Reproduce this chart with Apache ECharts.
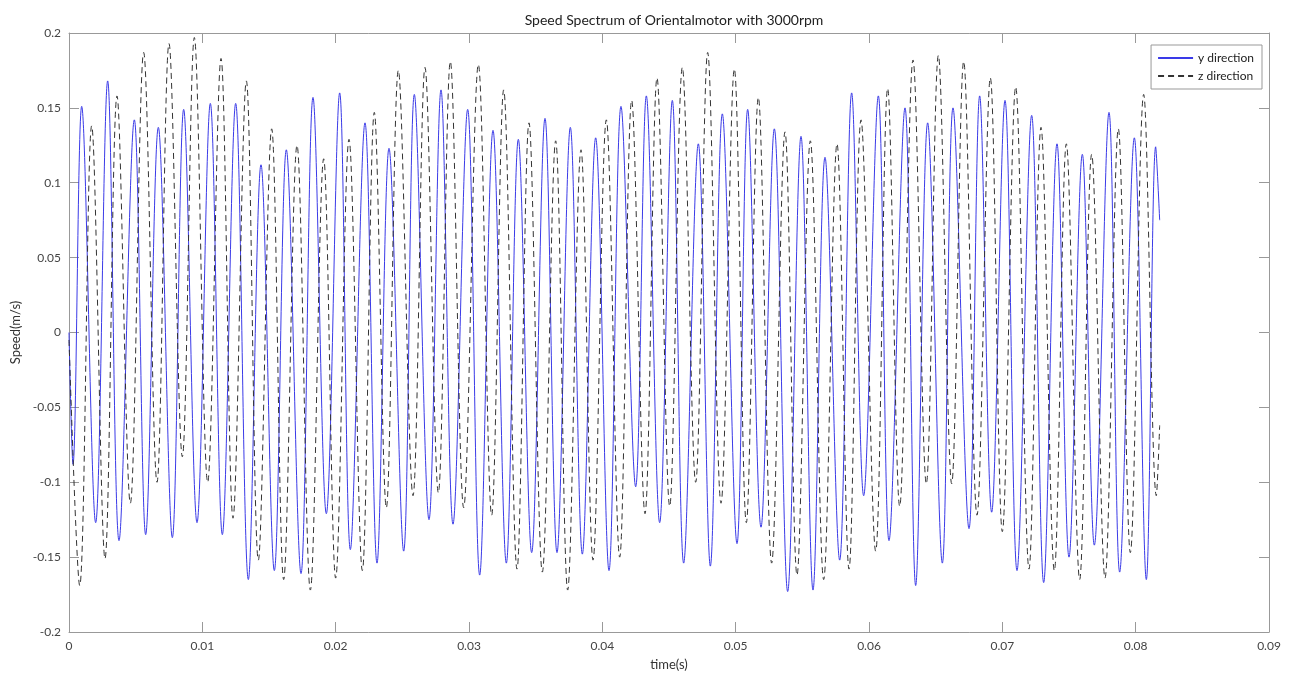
<!DOCTYPE html>
<html>
<head>
<meta charset="utf-8">
<script src="https://cdn.jsdelivr.net/npm/echarts@6/dist/echarts.min.js"></script>
<style>html,body{margin:0;padding:0;background:#fff}#c{width:1289px;height:680px}</style>
</head>
<body>
<div id="c"></div>
<script>
// y direction (blue): extrema
var yTime = [0, 0.0003, 0.00095, 0.0020, 0.0029, 0.00375, 0.0049, 0.00575, 0.0067, 0.00775, 0.0086, 0.0096, 0.0106, 0.0115, 0.0125, 0.01345, 0.0144,
  0.0154, 0.0163, 0.0174, 0.0183, 0.0193, 0.0203, 0.0211, 0.0222, 0.0231, 0.0240, 0.0251, 0.0259, 0.0270, 0.0279, 0.0288, 0.0299,
  0.0308, 0.0318, 0.0328, 0.0337, 0.0347, 0.0357, 0.0366, 0.0376, 0.0385, 0.0395, 0.0405, 0.0414, 0.0425, 0.0433, 0.0443,
  0.04525, 0.0461, 0.0472, 0.0481, 0.0490, 0.0501, 0.0509, 0.0519, 0.0529, 0.0539, 0.0549, 0.0558, 0.0567, 0.0578, 0.0587, 0.0596,
  0.0607, 0.0615, 0.0627, 0.0635, 0.0644, 0.0655, 0.0663, 0.0675, 0.0683, 0.0692, 0.0702, 0.0711, 0.0722, 0.0731, 0.0741, 0.0750,
  0.0760, 0.0769, 0.0780, 0.0788, 0.0799, 0.0808, 0.0815, 0.0818];
var ySpeed = [0.0, -0.088, 0.151, -0.127, 0.168, -0.139, 0.142, -0.135, 0.137, -0.137, 0.149, -0.127, 0.153, -0.135, 0.153, -0.165, 0.112,
  -0.159, 0.122, -0.161, 0.157, -0.121, 0.160, -0.145, 0.140, -0.154, 0.123, -0.146, 0.159, -0.125, 0.162, -0.128, 0.149,
  -0.162, 0.135, -0.154, 0.129, -0.147, 0.143, -0.147, 0.137, -0.148, 0.130, -0.159, 0.151, -0.103, 0.158, -0.127,
  0.155, -0.154, 0.126, -0.156, 0.146, -0.141, 0.149, -0.130, 0.136, -0.173, 0.131, -0.172, 0.117, -0.152, 0.160, -0.109,
  0.158, -0.139, 0.150, -0.169, 0.140, -0.154, 0.150, -0.131, 0.158, -0.120, 0.155, -0.159, 0.145, -0.167, 0.126, -0.150,
  0.119, -0.142, 0.147, -0.160, 0.130, -0.165, 0.124, 0.075];

// z direction (black dashed): extrema
var zTime = [0, 0.0008, 0.0017, 0.0027, 0.0036, 0.0046, 0.0056, 0.0066, 0.0075, 0.0085, 0.0094, 0.0104, 0.0114, 0.0123, 0.0133, 0.0142,
  0.0152, 0.0161, 0.0171, 0.0181, 0.0191, 0.0200, 0.0210, 0.0220, 0.0229, 0.0238, 0.0247, 0.0258, 0.0267, 0.0277, 0.0286, 0.0296,
  0.0307, 0.0317, 0.0326, 0.0336, 0.0345, 0.0355, 0.0365, 0.0374, 0.0384, 0.0393, 0.0403, 0.0413, 0.0422, 0.0432, 0.0441,
  0.04505, 0.0460, 0.0470, 0.0479, 0.0489, 0.0499, 0.0508, 0.0517, 0.0527, 0.0537, 0.0546, 0.0556, 0.0566, 0.0576, 0.0585, 0.0594,
  0.0605, 0.0614, 0.0623, 0.0633, 0.0643, 0.0652, 0.0662, 0.0671, 0.0681, 0.0691, 0.0700, 0.0710, 0.0720, 0.0729, 0.0739, 0.0748,
  0.0758, 0.0767, 0.0777, 0.0787, 0.0796, 0.0806, 0.08155, 0.0818];
var zSpeed = [-0.005, -0.169, 0.138, -0.151, 0.158, -0.114, 0.187, -0.100, 0.193, -0.083, 0.197, -0.100, 0.183, -0.124, 0.168, -0.152,
  0.136, -0.165, 0.125, -0.172, 0.116, -0.164, 0.129, -0.159, 0.147, -0.117, 0.175, -0.109, 0.177, -0.107, 0.181, -0.117,
  0.179, -0.122, 0.162, -0.158, 0.140, -0.160, 0.128, -0.172, 0.122, -0.152, 0.142, -0.150, 0.155, -0.121, 0.170,
  -0.116, 0.177, -0.100, 0.187, -0.114, 0.176, -0.127, 0.157, -0.154, 0.134, -0.162, 0.128, -0.165, 0.126, -0.158, 0.142,
  -0.146, 0.163, -0.116, 0.182, -0.101, 0.185, -0.101, 0.181, -0.122, 0.170, -0.133, 0.164, -0.158, 0.137, -0.159, 0.126,
  -0.165, 0.119, -0.164, 0.136, -0.147, 0.159, -0.109, -0.062];

var seriesNames = ['y direction', 'z direction'];
var titleText = 'Speed Spectrum of Orientalmotor with 3000rpm';

function pairs(t, v) { return t.map(function (x, i) { return [x, v[i]]; }); }

var FONT = 'Lato';
var frame = '#999';
var chart = echarts.init(document.getElementById('c'));
var baseX = { type: 'value', min: 0, max: 0.09, interval: 0.01 };
var baseY = { type: 'value', min: -0.2, max: 0.2, interval: 0.05 };
chart.setOption({
  animation: false,
  backgroundColor: '#fff',
  title: { text: titleText, left: 669, top: 8, textAlign: 'center',
    textStyle: { fontFamily: FONT, fontSize: 14, fontWeight: 'normal', color: '#222' } },
  grid: { left: 69, right: 20, top: 33, bottom: 48, containLabel: false },
  legend: {
    orient: 'vertical', right: 27, top: 45, itemWidth: 35, itemHeight: 10, itemGap: 6,
    padding: [7, 8, 7, 6], borderColor: '#999', borderWidth: 1, backgroundColor: '#fff',
    itemStyle: { opacity: 0 },
    textStyle: { fontFamily: FONT, fontSize: 12, color: '#222' },
    data: seriesNames
  },
  xAxis: [
    Object.assign({}, baseX, {
      position: 'bottom', name: 'time(s)', nameLocation: 'middle', nameGap: 26,
      nameTextStyle: { fontFamily: FONT, fontSize: 13, color: '#333' },
      axisLine: { show: true, onZero: false, lineStyle: { color: frame } },
      axisTick: { show: true, inside: true, length: 10, lineStyle: { color: frame } },
      axisLabel: { fontFamily: FONT, fontSize: 12, color: '#444', margin: 8 },
      splitLine: { show: false }
    }),
    Object.assign({}, baseX, {
      position: 'top',
      axisLine: { show: true, onZero: false, lineStyle: { color: frame } },
      axisTick: { show: true, inside: true, length: 10, lineStyle: { color: frame } },
      axisLabel: { show: false }, splitLine: { show: false }
    })
  ],
  yAxis: [
    Object.assign({}, baseY, {
      position: 'left', name: 'Speed(m/s)', nameLocation: 'middle', nameGap: 47, nameRotate: 90,
      nameTextStyle: { fontFamily: FONT, fontSize: 13, color: '#333' },
      axisLine: { show: true, onZero: false, lineStyle: { color: frame } },
      axisTick: { show: true, inside: true, length: 10, lineStyle: { color: frame } },
      axisLabel: { fontFamily: FONT, fontSize: 12, color: '#444', margin: 8 },
      splitLine: { show: false }
    }),
    Object.assign({}, baseY, {
      position: 'right',
      axisLine: { show: true, onZero: false, lineStyle: { color: frame } },
      axisTick: { show: true, inside: true, length: 10, lineStyle: { color: frame } },
      axisLabel: { show: false }, splitLine: { show: false }
    })
  ],
  series: [
    { name: seriesNames[0], type: 'line', xAxisIndex: 0, yAxisIndex: 0, data: pairs(yTime, ySpeed),
      smooth: 0.36, symbol: 'none', lineStyle: { color: '#3a3ae8', width: 1 }, itemStyle: { color: '#3a3ae8' } },
    { name: seriesNames[1], type: 'line', xAxisIndex: 0, yAxisIndex: 0, data: pairs(zTime, zSpeed),
      smooth: 0.36, symbol: 'none', lineStyle: { color: '#333', width: 1, type: [6, 4] }, itemStyle: { color: '#333' } }
  ]
});
</script>
</body>
</html>
